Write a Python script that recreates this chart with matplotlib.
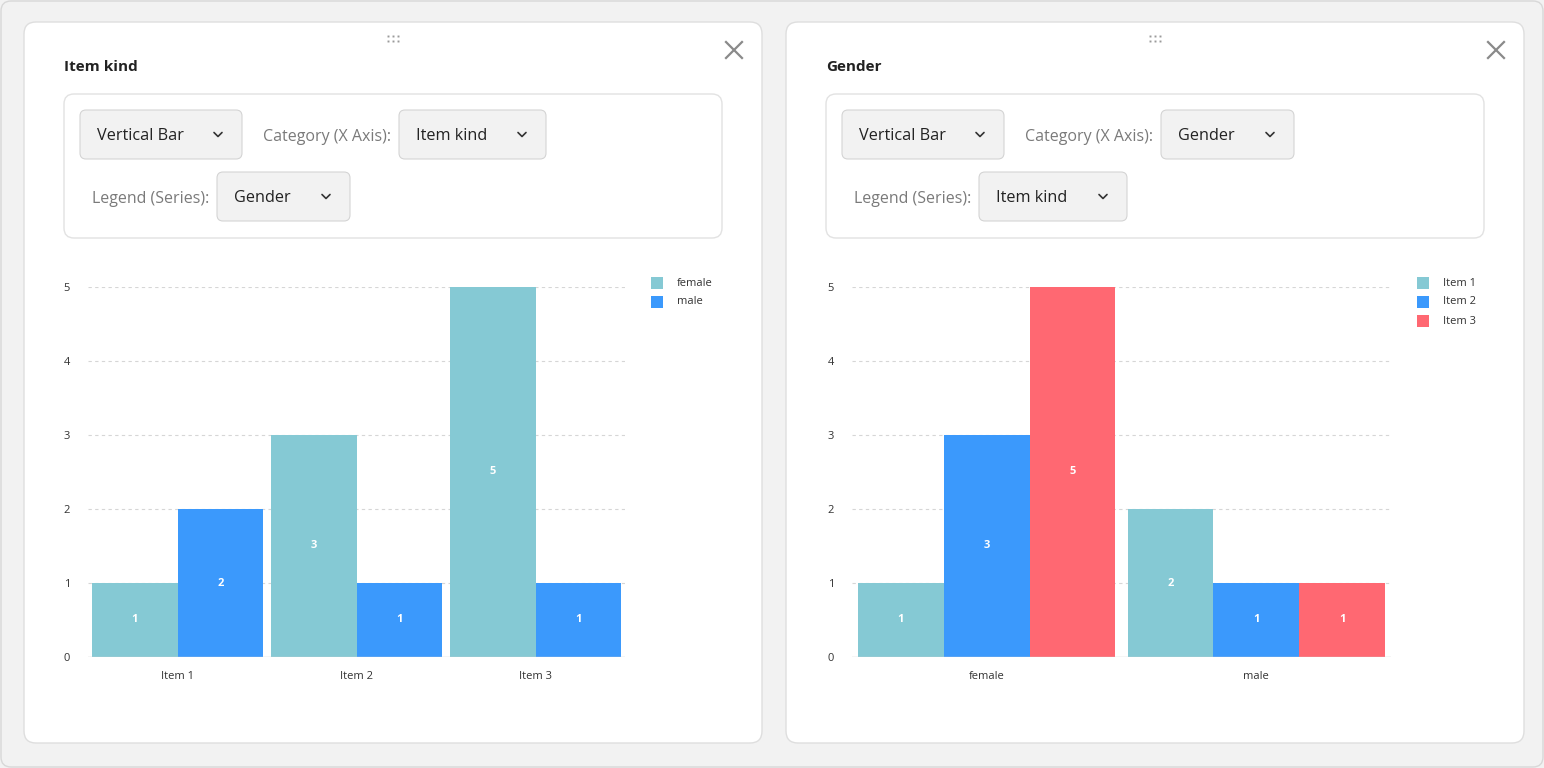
import matplotlib
matplotlib.use("Agg")
import matplotlib.pyplot as plt
from matplotlib.patches import FancyBboxPatch
import numpy as np

plt.rcParams['font.family'] = ['Open Sans', 'DejaVu Sans']

# ---- data ----
item_kinds = ["Item 1", "Item 2", "Item 3"]
genders = ["female", "male"]
female_counts = [1, 3, 5]
male_counts = [2, 1, 1]
y_ticks = [0, 1, 2, 3, 4, 5]

item_colors = ["#85c9d4", "#3b99fc", "#ff6872"]
gender_colors = ["#85c9d4", "#3b99fc"]

W, H = 1544, 768
fig = plt.figure(figsize=(W / 100, H / 100), dpi=100)
fig.patch.set_facecolor("#f2f2f2")

ui = fig.add_axes([0, 0, 1, 1])
ui.set_xlim(0, W)
ui.set_ylim(H, 0)
ui.axis("off")


def rbox(x0, y0, x1, y1, r, fc, ec, lw=1.0, z=1):
    p = FancyBboxPatch((x0 + r, y0 + r), (x1 - x0) - 2 * r, (y1 - y0) - 2 * r,
                       boxstyle=f"round,pad={r}", fc=fc, ec=ec, lw=lw, zorder=z)
    ui.add_patch(p)


# outer frame
rbox(1, 1, W - 1, H - 1, 10, "#f2f2f2", "#d8d8d8", 1.0, 0)


def dropdown(x0, x1, y0, y1, text):
    rbox(x0, y0, x1, y1, 6, "#f2f2f2", "#d4d4d4", 0.8, 3)
    ui.text(x0 + 17, (y0 + y1) / 2 + 2, text, fontsize=11.7, color="#222222",
            va="center", ha="left", zorder=4)
    cx, cy = x1 - 24, (y0 + y1) / 2
    ui.plot([cx - 4, cx, cx + 4], [cy - 2, cy + 2, cy - 2], color="#333333",
            lw=1.2, zorder=4, solid_capstyle="round")


def card(ox, title, dd_cat, dd_leg, cat_w, leg_w):
    rbox(ox + 24, 22, ox + 762, 743, 12, "white", "#dedede", 1.0, 1)
    # drag dots
    for dx in (-5, 0, 5):
        for dy in (-2.5, 2.5):
            ui.plot(ox + 393 + dx, 38 + dy, "s", ms=1.4, color="#9a9a9a", mew=0, zorder=3)
    # close X
    ui.plot([ox + 726, ox + 742], [42, 58], color="#8a8a8a", lw=1.6, zorder=3)
    ui.plot([ox + 726, ox + 742], [58, 42], color="#8a8a8a", lw=1.6, zorder=3)
    ui.text(ox + 64, 67, title, fontsize=11, fontweight="bold", color="#222222",
            va="center", ha="left", zorder=3)
    rbox(ox + 64, 94, ox + 722, 238, 10, "white", "#e2e2e2", 1.0, 2)
    dropdown(ox + 80, ox + 242, 110, 159, "Vertical Bar")
    ui.text(ox + 263, 137, "Category (X Axis):", fontsize=11.5, color="#7a7a7a",
            va="center", ha="left", zorder=3)
    dropdown(ox + 399, ox + 399 + cat_w, 110, 159, dd_cat)
    ui.text(ox + 92, 199, "Legend (Series):", fontsize=11.5, color="#7a7a7a",
            va="center", ha="left", zorder=3)
    dropdown(ox + 217, ox + 217 + leg_w, 172, 221, dd_leg)


card(0, "Item kind", "Item kind", "Gender", 147, 133)
card(762, "Gender", "Gender", "Item kind", 133, 148)


def chart(x0, x1, lx, cats, series_names, series_vals, colors):
    yb = 657
    y_top_px = yb - 74 * 5.0
    ax = fig.add_axes([x0 / W, 1 - yb / H, (x1 - x0) / W, (yb - y_top_px) / H])
    ax.set_facecolor("none")
    n = len(series_names)
    ncat = len(cats)
    bw = 0.955 / n
    xs = np.arange(ncat)
    for i, (name, vals, c) in enumerate(zip(series_names, series_vals, colors)):
        pos = xs - 0.955 / 2 + bw * (i + 0.5)
        ax.bar(pos, vals, width=bw, color=c, label=name, zorder=2, lw=0)
        for p, v in zip(pos, vals):
            ax.text(p, v / 2, str(v), ha="center", va="center", color="white",
                    fontsize=8, fontweight="bold", zorder=3)
    ax.set_xlim(-0.5, ncat - 0.5)
    ax.set_ylim(0, 5)
    ax.set_yticks(y_ticks)
    ax.set_xticks(xs)
    ax.set_xticklabels(cats)
    for s in ax.spines.values():
        s.set_visible(False)
    ax.tick_params(axis="both", length=0, labelsize=8, labelcolor="#333333")
    ax.tick_params(axis="y", pad=13)
    ax.tick_params(axis="x", pad=10)
    for t in y_ticks[1:]:
        ax.axhline(t, color="#d6d6d6", lw=0.8, ls=(0, (3, 3)), zorder=1)
    ax.axhline(0, color="#d0d0d0", lw=1.0, zorder=3)
    # legend
    for i, (name, c) in enumerate(zip(series_names, colors)):
        ly = 283 + 19 * i
        ui.add_patch(plt.Rectangle((lx, ly - 6), 12, 12, fc=c, ec="none", zorder=3))
        ui.text(lx + 26, ly, name, fontsize=8, color="#333333", va="center",
                ha="left", zorder=3)


chart(88, 625, 651, item_kinds, genders, [female_counts, male_counts], gender_colors)

by_item = [[female_counts[k], male_counts[k]] for k in range(len(item_kinds))]
chart(852, 1391, 1417, genders, item_kinds, by_item, item_colors)

fig.savefig("out.png", dpi=100, facecolor=fig.get_facecolor())
